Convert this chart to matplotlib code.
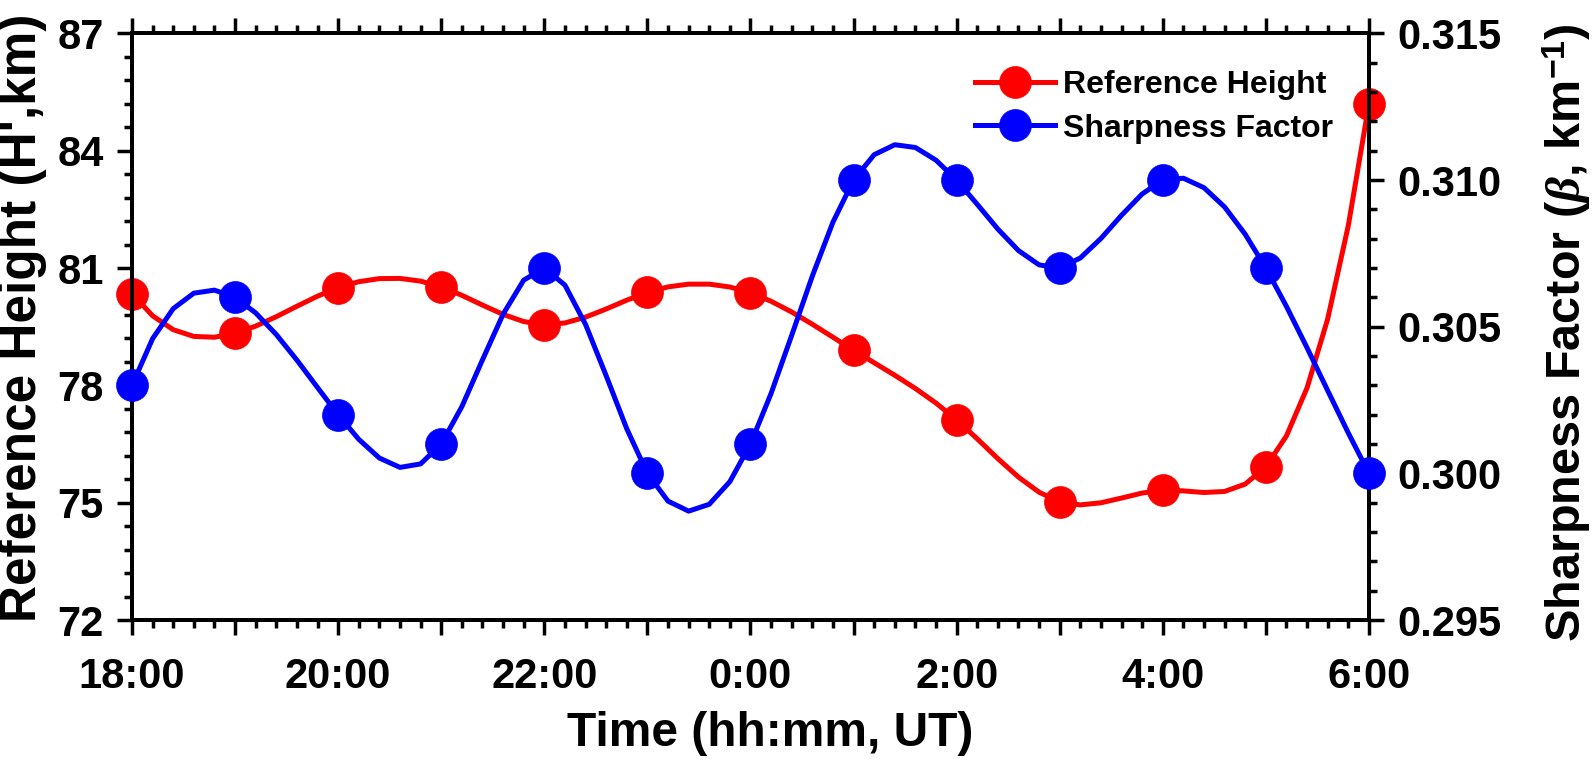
import numpy as np
import matplotlib
matplotlib.use("Agg")
import matplotlib.pyplot as plt
from matplotlib.lines import Line2D
from matplotlib.ticker import MultipleLocator, FixedLocator

# hourly samples, 18:00 UT to 6:00 UT
hours = np.arange(0, 13)
tick_labels = ['18:00', '20:00', '22:00', '0:00', '2:00', '4:00', '6:00']
ref_height = [80.35, 79.33, 80.50, 80.52, 79.55, 80.38, 80.37,
              78.90, 77.12, 75.02, 75.32, 75.92, 85.20]
sharpness = [0.303, 0.306, 0.302, 0.301, 0.307, 0.300, 0.301,
             0.310, 0.310, 0.307, 0.310, 0.307, 0.300]


# not-a-knot cubic spline (same as the smoothing used for the curves)
def spline_curve(x, y, step=0.2):
    x = np.asarray(x, float)
    y = np.asarray(y, float)
    n = len(x)
    h = np.diff(x)
    A = np.zeros((n, n))
    b = np.zeros(n)
    for i in range(1, n - 1):
        A[i, i - 1] = h[i - 1]
        A[i, i] = 2 * (h[i - 1] + h[i])
        A[i, i + 1] = h[i]
        b[i] = 6 * ((y[i + 1] - y[i]) / h[i] - (y[i] - y[i - 1]) / h[i - 1])
    A[0, 0], A[0, 1], A[0, 2] = h[1], -(h[0] + h[1]), h[0]
    A[-1, -3], A[-1, -2], A[-1, -1] = h[-1], -(h[-2] + h[-1]), h[-2]
    M = np.linalg.solve(A, b)
    xx = np.arange(x[0], x[-1] + step / 2, step)
    idx = np.clip(np.searchsorted(x, xx, side='right') - 1, 0, n - 2)
    x0, x1 = x[idx], x[idx + 1]
    hh = x1 - x0
    yy = (M[idx] * (x1 - xx) ** 3 / (6 * hh) + M[idx + 1] * (xx - x0) ** 3 / (6 * hh)
          + (y[idx] / hh - M[idx] * hh / 6) * (x1 - xx)
          + (y[idx + 1] / hh - M[idx + 1] * hh / 6) * (xx - x0))
    return xx, yy


plt.rcParams['font.family'] = ['Liberation Sans', 'DejaVu Sans']
plt.rcParams['font.weight'] = 'bold'
plt.rcParams['mathtext.fontset'] = 'custom'
plt.rcParams['mathtext.rm'] = 'Liberation Sans:bold'
plt.rcParams['mathtext.bf'] = 'Liberation Sans:bold'
plt.rcParams['mathtext.it'] = 'Liberation Serif:italic'

fig = plt.figure(figsize=(15.92, 7.68), dpi=100)
ax = fig.add_axes([0.0829, 0.1927, 0.777, 0.7637])
ax2 = ax.twinx()

lw = 3.6
ms = 23

xs, ys = spline_curve(hours, ref_height)
ax.plot(xs, ys, color='#ff0000', lw=lw, zorder=2)
ax.plot(hours, ref_height, 'o', color='#ff0000', ms=ms, mew=0.5, zorder=3, clip_on=False)

xs, ys = spline_curve(hours, sharpness)
ax2.plot(xs, ys, color='#0000ff', lw=lw, zorder=2)
ax2.plot(hours, sharpness, 'o', color='#0000ff', ms=ms, mew=0.5, zorder=3, clip_on=False)

ax.set_xlim(0, 12)
ax.set_ylim(72, 87)
ax2.set_ylim(0.295, 0.315)

ax.xaxis.set_minor_locator(MultipleLocator(0.2))
ax.set_xticks(hours)
ax.set_xticklabels([tick_labels[i // 2] if i % 2 == 0 else '' for i in range(13)])

ax.yaxis.set_major_locator(MultipleLocator(3))
ax.yaxis.set_minor_locator(MultipleLocator(0.6))
ax2.yaxis.set_major_locator(FixedLocator([0.295, 0.300, 0.305, 0.310, 0.315]))
ax2.yaxis.set_minor_locator(MultipleLocator(0.001))
ax2.set_yticklabels(['0.295', '0.300', '0.305', '0.310', '0.315'])

for a in (ax, ax2):
    for s in a.spines.values():
        s.set_linewidth(2.8)
    a.tick_params(which='major', direction='out', length=10.5, width=2.5, labelsize=30)
    a.tick_params(which='minor', direction='out', length=5.5, width=2.5)
ax.tick_params(axis='x', which='both', top=True, pad=16)
ax.tick_params(axis='y', which='both', right=False, pad=10)
ax2.tick_params(axis='y', which='both', pad=10)

ax.set_xlabel('Time (hh:mm, UT)', fontsize=34.5, fontweight='bold', labelpad=10)
ax.xaxis.label.set_x(0.516)
ax.set_ylabel("Reference Height (H',km)", fontsize=37, fontweight='bold')
ax.yaxis.set_label_coords(-0.069, 0.515)
ax2.set_ylabel(r'Sharpness Factor ($\beta$, km$^{\mathbf{-1}}$)', fontsize=35,
               fontweight='bold', rotation=90)
ax2.yaxis.set_label_coords(1.139, 0.49)

handles = [Line2D([], [], color='#ff0000', lw=lw, marker='o', ms=ms, mew=0.5),
           Line2D([], [], color='#0000ff', lw=lw, marker='o', ms=ms, mew=0.5)]
ax2.legend(handles, ['Reference Height', 'Sharpness Factor'], loc='upper left',
           bbox_to_anchor=(0.666, 0.970), frameon=False, fontsize=23,
           handlelength=2.5, handletextpad=0.25, labelspacing=0.42, borderaxespad=0.2)

fig.savefig('out.png', dpi=100)
